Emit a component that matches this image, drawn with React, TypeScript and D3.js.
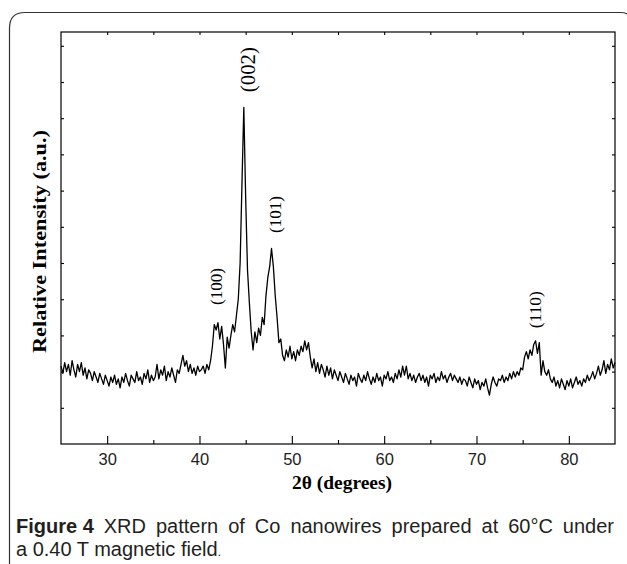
import React, { useEffect, useRef } from "react";
import * as d3 from "d3";

// scan grid: 25.0 .. 85.0 deg, 0.2 deg step
const scanStart = 25;
const scanStep = 0.2;

// intensities (a.u.), one per grid point
const base25to30 = [2.15, 1.95, 2.25, 2.0, 2.2, 1.9, 2.3, 2.05, 1.85, 2.2, 2.0, 2.25, 1.9, 2.1, 1.8, 2.05, 1.95, 1.75, 2.0, 1.85, 1.7, 1.95, 1.8, 1.65, 1.9, 1.75];
const base30to35 = [1.6, 1.85, 1.7, 1.9, 1.65, 1.8, 1.55, 1.85, 1.7, 1.95, 1.75, 1.6, 1.9, 1.8, 1.7, 2.0, 1.75, 1.85, 1.65, 1.95, 1.8, 2.05, 1.7, 1.9, 1.75];
const base35to40 = [1.85, 2.2, 1.8, 2.05, 1.9, 2.15, 1.75, 2.0, 1.85, 2.1, 1.9, 1.7, 2.05, 1.95, 2.2, 2.45, 2.15, 2.3, 2.0, 2.2, 1.95, 2.1, 1.9, 2.15, 2.0];
const peak100 = [2.05, 2.15, 1.95, 2.2, 2.05, 2.3, 2.7, 3.3, 3.15, 3.35, 2.9, 3.25, 2.75, 2.1, 2.95, 2.65, 3.0, 3.3, 3.1, 3.55];
const peak002 = [4.0, 5.0, 7.2, 9.3, 6.8, 4.8, 3.9, 3.1];
const rise101 = [2.6, 3.1, 2.8, 3.2, 3.0, 3.5, 3.3, 4.1, 4.6, 4.9, 5.4];
const fall101 = [4.9, 4.1, 3.5, 2.8, 2.9, 2.45, 2.3, 2.6, 2.4, 2.7, 2.35];
const shoulder51 = [2.55, 2.3, 2.6, 2.45, 2.7, 2.55, 2.85, 2.6, 2.8, 2.4];
const tail52to56 = [2.1, 2.35, 2.0, 2.25, 1.95, 2.2, 2.05, 1.85, 2.15, 1.9, 2.1, 1.8, 2.05, 1.9, 1.75, 2.0, 1.85, 1.7, 1.95, 1.8];
const base56to62 = [1.65, 1.9, 1.75, 1.85, 1.6, 1.95, 1.8, 1.7, 1.9, 1.75, 2.0, 1.8, 1.65, 1.85, 1.7, 1.95, 1.75, 1.85, 1.6, 1.9, 1.8, 2.0, 1.75, 1.85, 1.7, 1.95, 1.8, 2.05, 1.85, 2.15];
const base62to68 = [1.9, 2.15, 1.8, 1.95, 1.75, 1.9, 1.7, 1.85, 1.95, 1.75, 1.9, 1.7, 1.85, 1.6, 1.9, 1.8, 1.95, 1.7, 1.85, 1.75, 2.0, 1.8, 1.9, 1.7, 1.85, 1.95, 1.75, 1.9, 1.8, 1.7];
const base68to74 = [1.85, 1.65, 1.8, 1.75, 1.6, 1.85, 1.7, 1.55, 1.8, 1.65, 1.75, 1.5, 1.7, 1.6, 1.8, 1.55, 1.35, 1.65, 1.85, 1.7, 1.6, 1.8, 1.75, 1.9, 1.7, 1.85, 1.75, 1.95, 1.8, 2.0];
const peak110 = [1.85, 2.0, 1.9, 2.1, 2.05, 2.4, 2.55, 2.35, 2.6, 2.45, 2.75, 2.85, 2.5, 2.8, 1.9, 2.3, 2.0, 1.9, 2.05, 1.8];
const base78to85 = [1.7, 1.85, 1.6, 1.75, 1.55, 1.8, 1.65, 1.5, 1.75, 1.6, 1.8, 1.55, 1.7, 1.85, 1.65, 1.75, 1.6, 1.8, 1.7, 1.9, 1.75, 1.85, 2.0, 1.8, 1.95, 2.15, 1.9, 2.05, 2.3, 1.95, 2.2, 2.05, 2.35, 2.1, 2.25];

const intensity = [
  ...base25to30, ...base30to35, ...base35to40, ...peak100, ...peak002,
  ...rise101, ...fall101, ...shoulder51, ...tail52to56, ...base56to62,
  ...base62to68, ...base68to74, ...peak110, ...base78to85,
];

const xMajorTicks = [30, 40, 50, 60, 70, 80];
const xMinorTicks = [35, 45, 55, 65, 75];
const yTicks = [1, 2, 3, 4, 5, 6, 7, 8, 9, 10, 11];

// reflection labels: text, 2theta, intensity at the foot of the label
const hklLabels = ["(100)", "(002)", "(101)", "(110)"];
const hklTheta = [41.84, 45.2, 48.23, 76.34];
const hklLevel = [3.84, 9.72, 5.83, 3.2];

const serif = "'Liberation Serif', 'Times New Roman', serif";
const sans = "'Liberation Sans', Arial, sans-serif";

const App = () => {
  const ref = useRef<SVGSVGElement>(null);

  useEffect(() => {
    const svg = d3.select(ref.current);
    svg.selectAll("*").remove();

    const left = 61, right = 615, top = 32, bottom = 444;

    const x = d3.scaleLinear().domain([25, 85]).range([left, right]);
    const y = d3.scaleLinear().domain([0, (bottom - top) / 36.2]).range([bottom, top]);

    // page frame with rounded corner
    svg
      .append("path")
      .attr("d", "M9.5,564 V28 Q9.5,12.5 25,12.5 H620 Q625,12.5 627,14")
      .attr("fill", "none")
      .attr("stroke", "#333")
      .attr("stroke-width", 1.2);

    // plot box
    svg
      .append("rect")
      .attr("x", left)
      .attr("y", top)
      .attr("width", right - left)
      .attr("height", bottom - top)
      .attr("fill", "none")
      .attr("stroke", "#000")
      .attr("stroke-width", 1.2);

    const bottomAxis = svg
      .append("g")
      .attr("transform", `translate(0,${bottom})`)
      .call(d3.axisBottom(x).tickValues(xMajorTicks).tickSize(-8).tickPadding(9).tickFormat(d3.format("d")));
    bottomAxis.select(".domain").remove();
    bottomAxis
      .selectAll("text")
      .attr("font-family", sans)
      .attr("font-size", 16.5)
      .attr("fill", "#222");

    const bottomMinor = svg
      .append("g")
      .attr("transform", `translate(0,${bottom})`)
      .call(d3.axisBottom(x).tickValues(xMinorTicks).tickSize(-4).tickFormat(() => ""));
    bottomMinor.select(".domain").remove();

    const topAxis = svg
      .append("g")
      .attr("transform", `translate(0,${top})`)
      .call(d3.axisTop(x).tickValues([...xMajorTicks, ...xMinorTicks]).tickSize(-3).tickFormat(() => ""));
    topAxis.select(".domain").remove();

    const leftAxis = svg
      .append("g")
      .attr("transform", `translate(${left},0)`)
      .call(d3.axisLeft(y).tickValues(yTicks).tickSize(-3).tickFormat(() => ""));
    leftAxis.select(".domain").remove();

    const rightAxis = svg
      .append("g")
      .attr("transform", `translate(${right},0)`)
      .call(d3.axisRight(y).tickValues(yTicks).tickSize(-3).tickFormat(() => ""));
    rightAxis.select(".domain").remove();

    svg.selectAll(".tick line").attr("stroke", "#000").attr("stroke-width", 1.1);

    // pattern
    const line = d3
      .line<number>()
      .x((d, i) => x(scanStart + i * scanStep))
      .y((d) => y(d));

    svg
      .append("path")
      .datum(intensity)
      .attr("d", line)
      .attr("fill", "none")
      .attr("stroke", "#000")
      .attr("stroke-width", 1.3)
      .attr("stroke-linejoin", "round");

    // hkl labels
    hklLabels.forEach((label, i) => {
      const big = label === "(002)";
      svg
        .append("text")
        .attr("transform", `translate(${x(hklTheta[i])},${y(hklLevel[i])}) rotate(-90)`)
        .attr("dy", "0.35em")
        .attr("font-family", serif)
        .attr("font-size", big ? 20 : 16)
        .attr("textLength", big ? 45 : 37)
        .attr("lengthAdjust", "spacingAndGlyphs")
        .attr("fill", "#000")
        .text(label);
    });

    // axis titles
    svg
      .append("text")
      .attr("transform", `translate(39,241.5) rotate(-90)`)
      .attr("text-anchor", "middle")
      .attr("dy", "0.35em")
      .attr("font-family", serif)
      .attr("font-weight", "bold")
      .attr("font-size", 19)
      .attr("textLength", 223)
      .attr("lengthAdjust", "spacingAndGlyphs")
      .text("Relative Intensity (a.u.)");

    svg
      .append("text")
      .attr("x", 342)
      .attr("y", 489)
      .attr("text-anchor", "middle")
      .attr("font-family", serif)
      .attr("font-weight", "bold")
      .attr("font-size", 19)
      .attr("textLength", 100)
      .attr("lengthAdjust", "spacingAndGlyphs")
      .text("2θ (degrees)");

    // caption: first line justified by word spacing
    const capSize = 20;
    const capLeft = 16, capRight = 614;
    const figLabel = svg
      .append("text")
      .attr("x", capLeft)
      .attr("y", 533)
      .attr("font-family", sans)
      .attr("font-size", capSize)
      .attr("font-weight", "bold")
      .attr("fill", "#231f20")
      .text("Figure 4");
    const w1 = (figLabel.node() as SVGTextElement).getComputedTextLength();

    const restText = "XRD pattern of Co nanowires prepared at 60°C under";
    const rest = svg
      .append("text")
      .attr("y", 533)
      .attr("font-family", sans)
      .attr("font-size", capSize)
      .attr("fill", "#231f20")
      .text(restText);
    const w2 = (rest.node() as SVGTextElement).getComputedTextLength();
    const spaceW = capSize * 0.278;
    const innerSpaces = restText.split(" ").length - 1;
    const extra = (capRight - capLeft - w1 - spaceW - w2) / (innerSpaces + 1);
    rest
      .attr("x", capLeft + w1 + spaceW + extra)
      .style("word-spacing", `${extra}px`);

    const cap2 = svg
      .append("text")
      .attr("x", capLeft)
      .attr("y", 556)
      .attr("font-family", sans)
      .attr("font-size", capSize)
      .attr("fill", "#231f20");
    cap2.append("tspan").text("a 0.40 T magnetic field");
    cap2.append("tspan").attr("font-family", serif).attr("font-size", 13).text(".");
  }, []);

  return (
    <svg
      ref={ref}
      width={627}
      height={564}
      style={{ position: "absolute", left: 0, top: 0, background: "#fff" }}
    />
  );
};

export default App;
